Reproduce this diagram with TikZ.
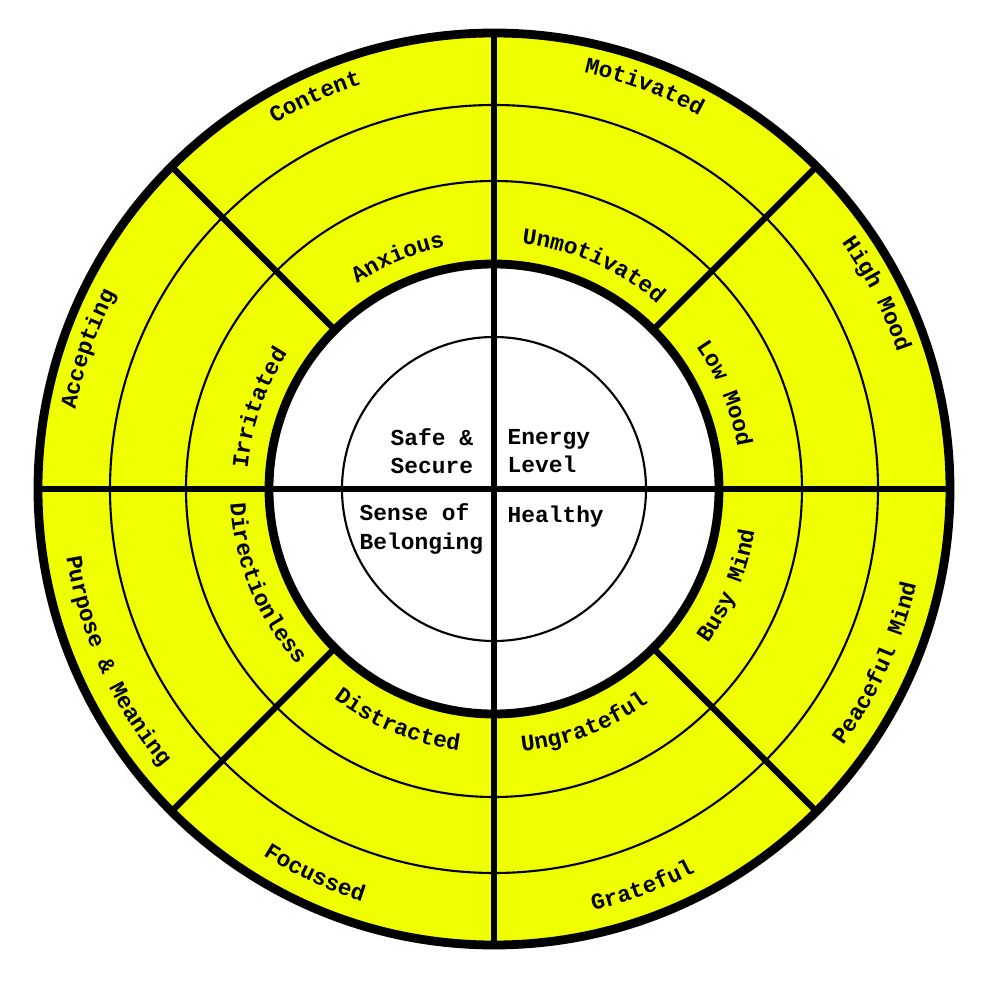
\documentclass[tikz,border=0pt]{standalone}
\usepackage{fontspec}
\newfontfamily\wheelmono{Liberation Mono}
\usetikzlibrary{decorations.text}
\definecolor{wheelyellow}{RGB}{240,255,0}
\newcommand{\wheelfont}{\wheelmono\bfseries\fontsize{6.5}{8}\selectfont}
% text on an arc: upper half read clockwise, lower half counter-clockwise
\newcommand{\toplabel}[3]{\path[decorate,decoration={text along path,text align=center,text={|\wheelfont|#3}}]
  (#1+22.5:#2) arc[start angle=#1+22.5,end angle=#1-22.5,radius=#2];}
\newcommand{\botlabel}[3]{\path[decorate,decoration={text along path,text align=center,text={|\wheelfont|#3}}]
  (#1-22.5:#2) arc[start angle=#1-22.5,end angle=#1+22.5,radius=#2];}

\begin{document}
\begin{tikzpicture}[x=0.01cm,y=0.01cm,
    ring/.style={line width=0.6pt},
    spoke/.style={line width=1.8pt},
    rim/.style={line width=2.5pt},
    ctr/.style={font=\wheelfont,align=left,inner sep=0pt}]
  \useasboundingbox (-494,-511) rectangle (506,489);
  % wheel
  \fill[wheelyellow] (0,0) circle[radius=456];
  \fill[white] (0,0) circle[radius=225];
  \draw[ring] (0,0) circle[radius=384] (0,0) circle[radius=308] (0,0) circle[radius=152];
  \draw[spoke] (-456,0) -- (456,0) (0,-456) -- (0,456);
  \foreach \a in {45,135,225,315}
    \draw[spoke] (\a:225) -- (\a:456);
  \draw[rim] (0,0) circle[radius=225];
  \draw[rim] (0,0) circle[radius=456];
  % outer labels
  \toplabel{27}{426}{High Mood}
  \toplabel{69.5}{426}{Motivated}
  \toplabel{114.5}{426}{Content}
  \toplabel{161}{426}{Accepting}
  \botlabel{-24.5}{433}{Peaceful Mind}
  \botlabel{-69.5}{433}{Grateful}
  \botlabel{-115}{433}{Focussed}
  \botlabel{-155.5}{433}{Purpose {\&} Meaning}
  % inner labels
  \toplabel{22.5}{247}{Low Mood}
  \toplabel{66}{247}{Unmotivated}
  \toplabel{112.5}{247}{Anxious}
  \toplabel{161}{247}{Irritated}
  \botlabel{-22.5}{264}{Busy Mind}
  \botlabel{-69}{264}{Ungrateful}
  \botlabel{-112.5}{264}{Distracted}
  \botlabel{-157.5}{264}{Directionless}
  % centre
  \node[ctr,anchor=west] (safe) at (-104,38) {Safe \&\\Secure};
  \node[ctr,anchor=west] (energy) at (13,38) {Energy\\Level};
  \node[ctr,anchor=west] (belong) at (-135,-40) {Sense of\\Belonging};
  \node[ctr,anchor=base west] (healthy) at (13,-33) {Healthy};
\end{tikzpicture}
\end{document}
